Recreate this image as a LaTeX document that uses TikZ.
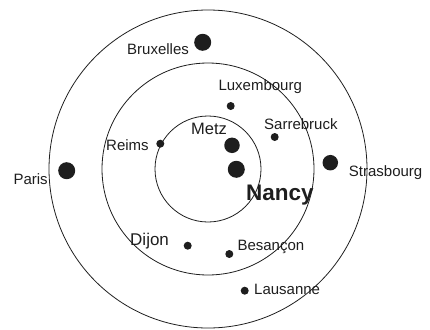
\documentclass[tikz,border=0pt]{standalone}
\usepackage{fontspec}
\setmainfont{Liberation Sans}
\definecolor{ink}{HTML}{1E1E1E}
\begin{document}
\begin{tikzpicture}[x=1pt,y=-1pt,
  ring/.style={draw=ink,line width=0.8pt},
  bigdot/.style={circle,fill=ink,inner sep=0pt,minimum size=17pt},
  middot/.style={circle,fill=ink,inner sep=0pt,minimum size=15.5pt},
  smalldot/.style={circle,fill=ink,inner sep=0pt,minimum size=8pt},
  lab/.style={text=ink,inner sep=0pt,anchor=base west,font=\fontsize{15}{18}\selectfont},
  biglab/.style={lab,font=\fontsize{17}{20}\selectfont},
  metzlab/.style={lab,font=\fontsize{16.5}{19}\selectfont},
  nancylab/.style={lab,font=\fontsize{22.5}{26}\selectfont\bfseries}]
\useasboundingbox (0,0) rectangle (430,329);
\clip (0,0) rectangle (430,329);
\coordinate (c) at (208,169);
\draw[ring] (c) circle[radius=53];
\draw[ring] (c) circle[radius=106];
\draw[ring] (c) circle[radius=159];
% dots
\node[bigdot] (bru) at (202.7,42.3) {};
\node[bigdot] (par) at (66.7,170.7) {};
\node[middot] (str) at (330.3,162.7) {};
\node[middot] (met) at (232,145.3) {};
\node[bigdot] (nan) at (236.3,169.3) {};
\node[smalldot] (lux) at (230.7,106) {};
\node[smalldot] (sar) at (274.7,137) {};
\node[smalldot] (rei) at (160.3,143.7) {};
\node[smalldot] (dij) at (187.7,245.7) {};
\node[smalldot] (bes) at (229.3,254) {};
\node[smalldot] (lau) at (244.7,290.7) {};
% labels
\node[lab] (lbru) at (127,54) {Bruxelles};
\node[lab] (llux) at (218.3,90.7) {Luxembourg};
\node[metzlab] (lmet) at (191,134) {Metz};
\node[lab] (lsar) at (264,129.3) {Sarrebruck};
\node[lab] (lrei) at (106,150.3) {Reims};
\node[lab] (lpar) at (13.3,184.3) {Paris};
\node[lab] (lstr) at (348.7,176.3) {Strasbourg};
\node[nancylab] (lnan) at (246,200) {Nancy};
\node[biglab] (ldij) at (130,245.7) {Dijon};
\node[lab] (lbes) at (237.3,250) {Besançon};
\node[lab] (llau) at (254,294) {Lausanne};
\end{tikzpicture}
\end{document}
